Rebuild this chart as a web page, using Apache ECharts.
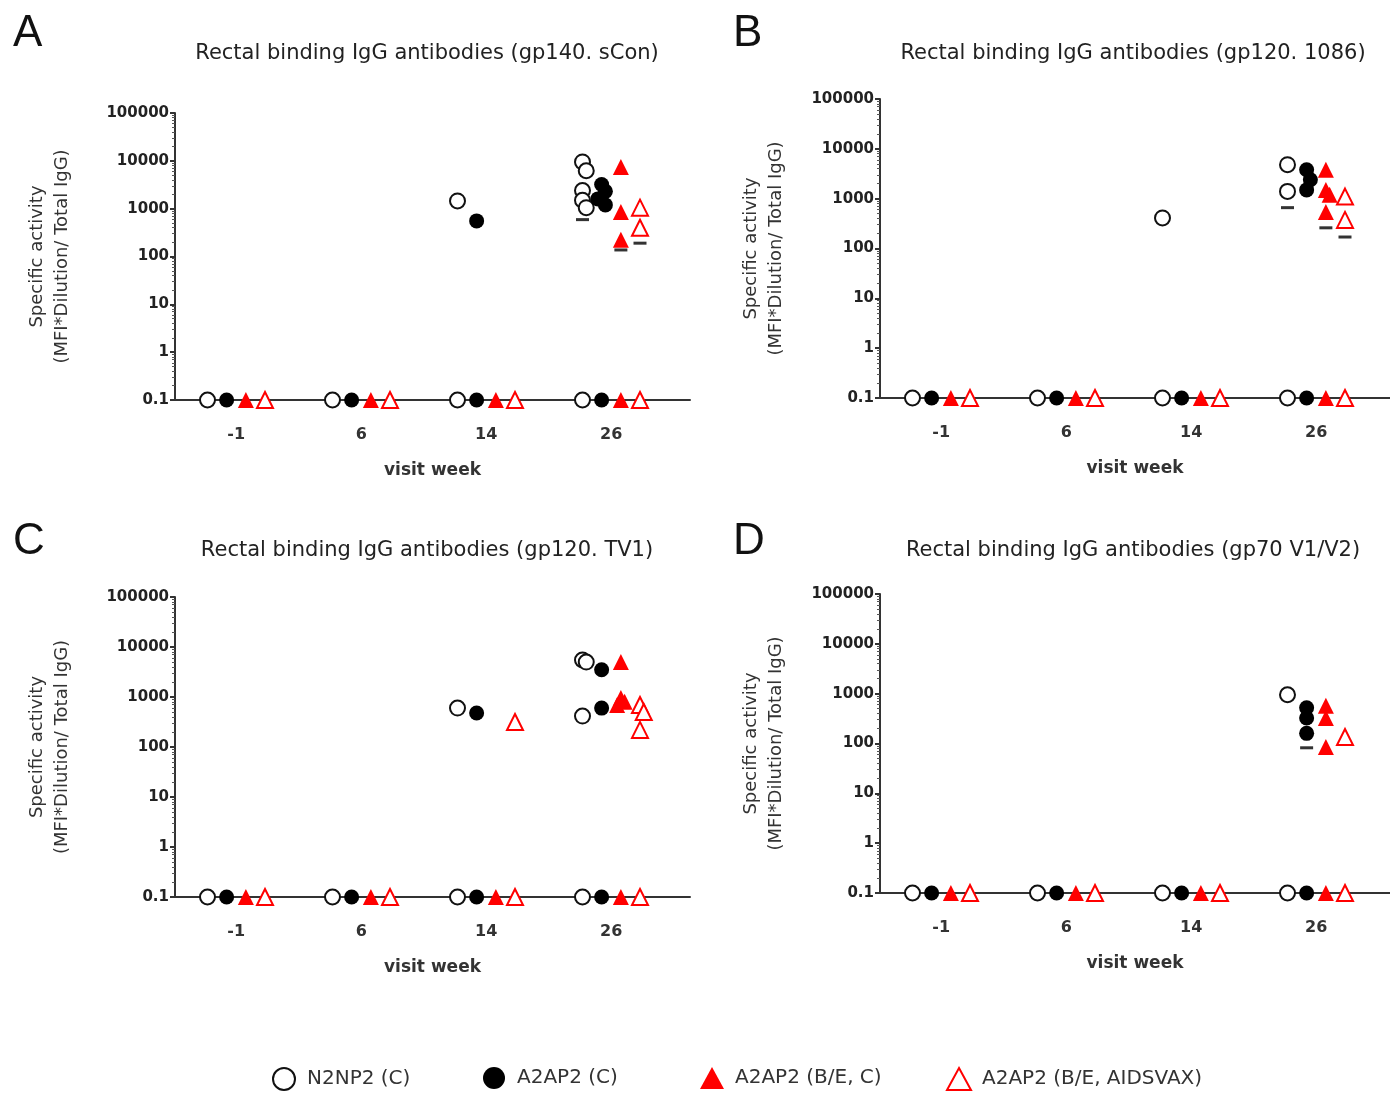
<!DOCTYPE html>
<html>
<head>
<meta charset="utf-8">
<script src="https://cdn.jsdelivr.net/npm/echarts@6/dist/echarts.min.js"></script>
<style>
html, body { margin: 0; padding: 0; background: #fff; }
#chart { width: 1390px; height: 1093px; }
</style>
</head>
<body>
<div id="chart"></div>
<script>
var weeks = ['-1', '6', '14', '26'];
var groups = ['N2NP2 (C)', 'A2AP2 (C)', 'A2AP2 (B/E, C)', 'A2AP2 (B/E, AIDSVAX)'];

// A: gp140 sCon -- one list of values per visit week
var aN2NP2 = [[0.1], [0.1], [1450, 0.1], [9500, 6200, 2400, 1500, 1050, 0.1]];
var aA2AP2 = [[0.1], [0.1], [555, 0.1], [3200, 2300, 1600, 1200, 0.1]];
var aBEC = [[0.1], [0.1], [0.1], [7400, 850, 225, 0.1]];
var aAidsvax = [[0.1], [0.1], [0.1], [1050, 400, 0.1]];
var aMedians = [590, null, 137, 190];

// B: gp120 1086
var bN2NP2 = [[0.1], [0.1], [410, 0.1], [4800, 1400, 0.1]];
var bA2AP2 = [[0.1], [0.1], [0.1], [3800, 2400, 1500, 0.1]];
var bBEC = [[0.1], [0.1], [0.1], [3800, 1500, 1200, 540, 0.1]];
var bAidsvax = [[0.1], [0.1], [0.1], [1100, 375, 0.1]];
var bMedians = [660, null, 260, 170];

// C: gp120 TV1
var cN2NP2 = [[0.1], [0.1], [600, 0.1], [5500, 5000, 415, 0.1]];
var cA2AP2 = [[0.1], [0.1], [480, 0.1], [3500, 600, 0.1]];
var cBEC = [[0.1], [0.1], [0.1], [5000, 950, 800, 690, 0.1]];
var cAidsvax = [[0.1], [0.1], [316, 0.1], [690, 500, 220, 0.1]];
var cMedians = [null, null, null, null];

// D: gp70 V1/V2
var dN2NP2 = [[0.1], [0.1], [0.1], [950, 0.1]];
var dA2AP2 = [[0.1], [0.1], [0.1], [520, 325, 160, 0.1]];
var dBEC = [[0.1], [0.1], [0.1], [570, 325, 85, 0.1]];
var dAidsvax = [[0.1], [0.1], [0.1], [135, 0.1]];
var dMedians = [null, 82, null, null];

var panels = [
    { letter: 'A', title: 'Rectal binding IgG antibodies (gp140. sCon)', data: [aN2NP2, aA2AP2, aBEC, aAidsvax], medians: aMedians },
    { letter: 'B', title: 'Rectal binding IgG antibodies (gp120. 1086)', data: [bN2NP2, bA2AP2, bBEC, bAidsvax], medians: bMedians },
    { letter: 'C', title: 'Rectal binding IgG antibodies (gp120. TV1)', data: [cN2NP2, cA2AP2, cBEC, cAidsvax], medians: cMedians },
    { letter: 'D', title: 'Rectal binding IgG antibodies (gp70 V1/V2)', data: [dN2NP2, dA2AP2, dBEC, dAidsvax], medians: dMedians }
];

// layout
var grids = [
    { left: 175, top: 113, width: 515, height: 287 },
    { left: 880, top: 99, width: 510, height: 299 },
    { left: 175, top: 597, width: 515, height: 300 },
    { left: 880, top: 594, width: 510, height: 299 }
];
var xRanges = [[-0.49, 3.63], [-0.49, 3.59], [-0.49, 3.63], [-0.49, 3.59]];
var titleCenters = [[427, 43], [1133, 43], [427, 540], [1133, 540]];
var letterPos = [[13, 12], [733, 12], [13, 520], [733, 520]];
var yNameGaps = [100, 91, 100, 91];
var groupOffsets = [-0.23, -0.077, 0.077, 0.23];
var legendLefts = [272, 483, 700, 946];

var FONT = 'DejaVu Sans';
var groupStyles = [
    { symbol: 'circle', size: 15, itemStyle: { color: '#fff', borderColor: '#111', borderWidth: 2, opacity: 1 } },
    { symbol: 'circle', size: 15, itemStyle: { color: '#000', opacity: 1 } },
    { symbol: 'triangle', size: 16, itemStyle: { color: '#ff0000', opacity: 1 } },
    { symbol: 'triangle', size: 16, itemStyle: { color: '#fff', borderColor: '#ff0000', borderWidth: 2, opacity: 1 } }
];

// small alternating spread so stacked points stay visible
function spread(vals, center) {
    var out = [];
    var sorted = vals.slice().sort(function (a, b) { return b - a; });
    var prev = null, side = 1;
    sorted.forEach(function (v) {
        var dx = 0;
        if (v > 0.1 && prev !== null && Math.abs(Math.log10(prev) - Math.log10(v)) < 0.2) {
            dx = side * 0.03;
            side = -side;
        } else {
            side = 1;
        }
        prev = v;
        out.push([center + dx, v]);
    });
    return out;
}

var option = {
    animation: false,
    backgroundColor: '#fff',
    title: [],
    legend: [],
    grid: [],
    xAxis: [],
    yAxis: [],
    series: []
};

panels.forEach(function (p, i) {
    option.grid.push(grids[i]);
    option.title.push({
        text: p.title, left: titleCenters[i][0], top: titleCenters[i][1], textAlign: 'center', padding: 0,
        textStyle: { fontFamily: FONT, fontSize: 21, fontWeight: 'normal', color: '#222' }
    });
    option.title.push({
        text: p.letter, left: letterPos[i][0], top: letterPos[i][1], padding: 0,
        textStyle: { fontFamily: 'Liberation Sans', fontSize: 44, fontWeight: 'normal', color: '#111' }
    });
    option.xAxis.push({
        type: 'value', gridIndex: i, min: xRanges[i][0], max: xRanges[i][1],
        name: 'visit week', nameLocation: 'middle', nameGap: 62,
        nameTextStyle: { fontFamily: FONT, fontSize: 17, fontWeight: 'bold', color: '#333' },
        axisLine: { onZero: false, lineStyle: { color: '#333', width: 2 } },
        axisTick: { show: false },
        splitLine: { show: false },
        axisLabel: {
            customValues: [0, 1, 2, 3], margin: 27,
            fontFamily: FONT, fontSize: 16, fontWeight: 'bold', color: '#333',
            formatter: function (v) { return weeks[Math.round(v)]; }
        }
    });
    option.yAxis.push({
        type: 'log', logBase: 10, gridIndex: i, min: 0.1, max: 100000,
        name: 'Specific activity\n(MFI*Dilution/ Total IgG)', nameLocation: 'middle', nameRotate: 90, nameGap: yNameGaps[i],
        nameTextStyle: { fontFamily: FONT, fontSize: 18, lineHeight: 25, color: '#333' },
        axisLine: { show: true, onZero: false, lineStyle: { color: '#333', width: 2 } },
        axisTick: { show: true, length: 5, lineStyle: { color: '#333', width: 2 } },
        minorTick: { show: true, splitNumber: 9, length: 3, lineStyle: { color: '#555' } },
        splitLine: { show: false },
        axisLabel: {
            margin: 6, fontFamily: FONT, fontSize: 15, fontWeight: 'bold', color: '#222',
            formatter: function (v) { return v < 0.5 ? '0.1' : String(Math.round(v)); }
        }
    });
    p.data.forEach(function (groupVals, g) {
        var pts = [];
        groupVals.forEach(function (vals, w) {
            pts = pts.concat(spread(vals, w + groupOffsets[g]));
        });
        option.series.push({
            name: groups[g], type: 'scatter', xAxisIndex: i, yAxisIndex: i,
            symbol: groupStyles[g].symbol, symbolSize: groupStyles[g].size,
            itemStyle: groupStyles[g].itemStyle, clip: false, z: 2 + g,
            data: pts
        });
    });
    var medPts = [];
    p.medians.forEach(function (m, g) {
        if (m !== null) medPts.push([3 + groupOffsets[g], m]);
    });
    option.series.push({
        name: 'median', type: 'scatter', xAxisIndex: i, yAxisIndex: i,
        symbol: 'rect', symbolSize: [13, 3], itemStyle: { color: '#333', opacity: 1 },
        clip: false, z: 10, data: medPts
    });
});

groups.forEach(function (name, g) {
    option.legend.push({
        left: legendLefts[g], top: 1067, padding: 0, itemWidth: 24, itemHeight: 22,
        selectedMode: false,
        data: [{ name: name }],
        textStyle: { fontFamily: FONT, fontSize: 20, color: '#333', padding: [0, 0, 0, 6] }
    });
});

var myChart = echarts.init(document.getElementById('chart'));
myChart.setOption(option);
</script>
</body>
</html>
